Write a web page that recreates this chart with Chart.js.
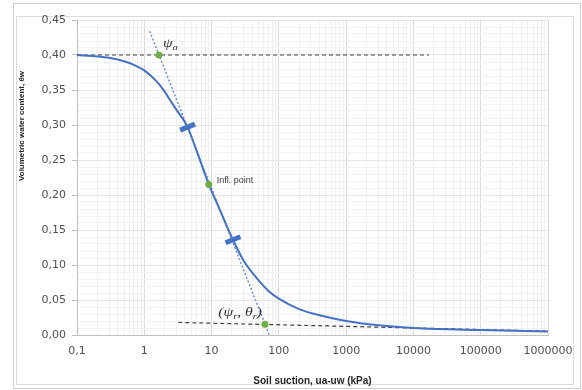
<!DOCTYPE html>
<html lang="en">

<head>
    <meta charset="UTF-8">
    <title>Soil water retention curve</title>
    <style>
        html,
        body {
            margin: 0;
            padding: 0;
            background: #fff;
        }

        #chart-box {
            width: 582px;
            height: 390px;
        }
    </style>
</head>

<body>
    <div id="chart-box">
        <canvas id="swcc"></canvas>
    </div>

    <script src="https://cdn.jsdelivr.net/npm/chart.js@4.4.0/dist/chart.umd.min.js"></script>
    <script>
        // retention curve (suction in kPa, volumetric water content)
        const suction = [0.1, 0.2, 0.3, 0.5, 0.7, 1, 1.5, 2, 2.4, 3, 4.4, 6, 9.1, 13, 20.8, 30, 49, 70, 100, 200, 500, 1000, 3000, 10000, 100000, 1000000];
        const theta = [0.400, 0.398, 0.396, 0.391, 0.386, 0.378, 0.363, 0.348, 0.336, 0.322, 0.297, 0.263, 0.215, 0.181, 0.136, 0.106, 0.079, 0.063, 0.052, 0.037, 0.026, 0.020, 0.014, 0.010, 0.007, 0.005];

        // tangent through the inflection point
        const tangentSuction = [1.2, 72];
        const tangentTheta = [0.434, 0];

        // saturated and residual construction lines
        const satLineSuction = [0.1, 17000];
        const satLineTheta = [0.40, 0.40];
        const resLineSuction = [3.2, 1000000];
        const resLineTheta = [0.018, 0.0055];

        // green key points: air entry, inflection, residual
        const keySuction = [1.65, 9.1, 62];
        const keyTheta = [0.40, 0.215, 0.0153];
        const keyLabels = ['ψ_a', 'Infl. point', '(ψ_r, θ_r)'];

        // blue bars on the curve
        const barSuction = [4.4, 20.8];
        const barTheta = [0.297, 0.136];

        const xTickValues = [0.1, 1, 10, 100, 1000, 10000, 100000, 1000000];
        const xTickLabels = ['0,1', '1', '10', '100', '1000', '10000', '100000', '1000000'];
        const yTickValues = [0, 0.05, 0.10, 0.15, 0.20, 0.25, 0.30, 0.35, 0.40, 0.45];
        const yTickLabels = ['0,00', '0,05', '0,10', '0,15', '0,20', '0,25', '0,30', '0,35', '0,40', '0,45'];

        const xTitle = 'Soil suction, ua-uw (kPa)';
        const yTitle = 'Volumetric water content, θw';

        const toPoints = (xs, ys) => xs.map((x, i) => ({ x: x, y: ys[i] }));

        const blue = '#4472C4';
        const green = '#70AD47';
        const tickFont = { family: 'DejaVu Sans', size: 11 };

        // label offsets from their point, in px (right: text ends at dx)
        const labelStyle = [
            { dx: 4, dy: -8, wide: 1.3, font: 'italic 12px "Liberation Serif"', sub: 'italic 8px "Liberation Serif"', color: '#333' },
            { dx: 8, dy: -2, wide: 1, font: '9px "Liberation Sans"', sub: '9px "Liberation Sans"', color: '#404040' },
            { dx: -3, dy: -8, wide: 1.3, right: true, font: 'italic 12px "Liberation Serif"', sub: 'italic 8px "Liberation Serif"', color: '#333' }
        ];

        // split "_c" markers into plain / subscript runs
        const runs = (text) => {
            const out = [];
            let i = 0;
            while (i < text.length) {
                if (text[i] === '_') {
                    out.push({ t: text[i + 1], sub: true });
                    i += 2;
                } else {
                    out.push({ t: text[i], sub: false });
                    i += 1;
                }
            }
            return out;
        };

        const drawRich = (ctx, text, x, y, st) => {
            const parts = runs(text);
            ctx.save();
            ctx.fillStyle = st.color;
            ctx.textBaseline = 'alphabetic';
            ctx.textAlign = 'left';
            let w = 0;
            parts.forEach(p => {
                ctx.font = p.sub ? st.sub : st.font;
                w += ctx.measureText(p.t).width;
            });
            if (st.right) x -= w * st.wide;
            ctx.translate(x, y);
            ctx.scale(st.wide, 1);
            let cx = 0;
            parts.forEach(p => {
                ctx.font = p.sub ? st.sub : st.font;
                ctx.fillText(p.t, cx, p.sub ? 3 : 0);
                cx += ctx.measureText(p.t).width;
            });
            ctx.restore();
        };

        const framePlugin = {
            id: 'frame',
            beforeDraw(chart) {
                const c = chart.ctx;
                c.save();
                c.fillStyle = '#fff';
                c.fillRect(0, 0, chart.width, chart.height);
                c.lineWidth = 1;
                c.strokeStyle = '#cfcfcf';
                c.strokeRect(13.5, 3.5, 567, 385);
                c.strokeStyle = '#dadada';
                c.strokeRect(16.5, 16.5, 557, 368);
                c.restore();
            }
        };

        const labelPlugin = {
            id: 'pointLabels',
            afterDatasetsDraw(chart) {
                const c = chart.ctx;
                const sx = chart.scales.x;
                const sy = chart.scales.y;
                keyLabels.forEach((lbl, i) => {
                    const st = labelStyle[i];
                    const px = sx.getPixelForValue(keySuction[i]);
                    const py = sy.getPixelForValue(keyTheta[i]);
                    drawRich(c, lbl, px + st.dx, py + st.dy, st);
                });

                // y title sits in the upper half of the axis
                c.save();
                c.translate(22, 126);
                c.rotate(-Math.PI / 2);
                c.font = 'bold 8px "Liberation Sans"';
                c.fillStyle = '#262626';
                c.textAlign = 'center';
                c.textBaseline = 'middle';
                c.fillText(yTitle, 0, 0);
                c.restore();
            }
        };

        const isMajor = (ctx) => ctx.tick && ctx.tick.major;

        new Chart(document.getElementById('swcc'), {
            type: 'line',
            data: {
                datasets: [{
                    // key points
                    data: toPoints(keySuction, keyTheta),
                    showLine: false,
                    pointRadius: 3.5,
                    pointBackgroundColor: green,
                    pointBorderColor: green,
                    pointBorderWidth: 0
                }, {
                    // short bars across the curve
                    data: toPoints(barSuction, barTheta),
                    showLine: false,
                    pointStyle: 'line',
                    pointRotation: -22,
                    pointRadius: 8,
                    pointBorderWidth: 5,
                    pointBorderColor: blue
                }, {
                    data: toPoints(suction, theta),
                    borderColor: blue,
                    borderWidth: 2,
                    pointRadius: 0,
                    cubicInterpolationMode: 'monotone'
                }, {
                    data: toPoints(tangentSuction, tangentTheta),
                    borderColor: '#6d8fd6',
                    borderWidth: 1.5,
                    borderDash: [2, 2],
                    pointRadius: 0
                }, {
                    data: toPoints(satLineSuction, satLineTheta),
                    borderColor: '#404040',
                    borderWidth: 1.2,
                    borderDash: [4, 3],
                    pointRadius: 0
                }, {
                    data: toPoints(resLineSuction, resLineTheta),
                    borderColor: '#404040',
                    borderWidth: 1.2,
                    borderDash: [4, 3],
                    pointRadius: 0
                }]
            },
            options: {
                responsive: true,
                maintainAspectRatio: false,
                animation: false,
                events: [],
                layout: { padding: { left: 16, top: 20, right: 34, bottom: 3 } },
                plugins: {
                    legend: { display: false },
                    tooltip: { enabled: false }
                },
                scales: {
                    x: {
                        type: 'logarithmic',
                        min: 0.1,
                        max: 1000000,
                        afterFit: (s) => { s.height = 52; },
                        afterBuildTicks: (s) => {
                            // 1..9 per decade, majors at the powers of ten
                            const ticks = [];
                            xTickValues.forEach((v, i) => {
                                ticks.push({ value: v, major: true, label: xTickLabels[i] });
                                if (i < xTickValues.length - 1) {
                                    for (let k = 2; k <= 9; k++) ticks.push({ value: v * k, major: false });
                                }
                            });
                            ticks.sort((a, b) => a.value - b.value);
                            s.ticks = ticks;
                        },
                        ticks: {
                            autoSkip: false,
                            maxRotation: 0,
                            padding: 4,
                            color: '#505050',
                            font: tickFont,
                            callback: function (value, index, ticks) {
                                return ticks[index].major ? ticks[index].label : '';
                            }
                        },
                        grid: {
                            color: (ctx) => isMajor(ctx) ? '#d9d9d9' : '#f0f0f0',
                            tickColor: 'transparent',
                            tickLength: 6
                        },
                        border: { color: '#bfbfbf' },
                        title: {
                            display: true,
                            text: xTitle,
                            color: '#262626',
                            font: { family: 'Liberation Sans', size: 10, weight: 'bold' },
                            padding: { top: 0, bottom: 0 }
                        }
                    },
                    y: {
                        min: 0,
                        max: 0.45,
                        afterFit: (s) => { s.width = 61; },
                        afterBuildTicks: (s) => {
                            // minor lines every 0.01
                            const ticks = [];
                            yTickValues.forEach((v, i) => {
                                ticks.push({ value: v, major: true, label: yTickLabels[i] });
                                if (i < yTickValues.length - 1) {
                                    for (let k = 1; k <= 4; k++) ticks.push({ value: v + k * 0.01, major: false });
                                }
                            });
                            ticks.sort((a, b) => a.value - b.value);
                            s.ticks = ticks;
                        },
                        ticks: {
                            autoSkip: false,
                            padding: 6,
                            color: '#505050',
                            font: tickFont,
                            callback: function (value, index, ticks) {
                                return ticks[index].major ? ticks[index].label : '';
                            }
                        },
                        grid: {
                            color: (ctx) => isMajor(ctx) ? '#e6e6e6' : '#f2f2f2',
                            tickColor: (ctx) => isMajor(ctx) ? '#bfbfbf' : 'transparent',
                            tickLength: 5
                        },
                        border: { color: '#bfbfbf' }
                    }
                }
            },
            plugins: [framePlugin, labelPlugin]
        });
    </script>

</body>

</html>
